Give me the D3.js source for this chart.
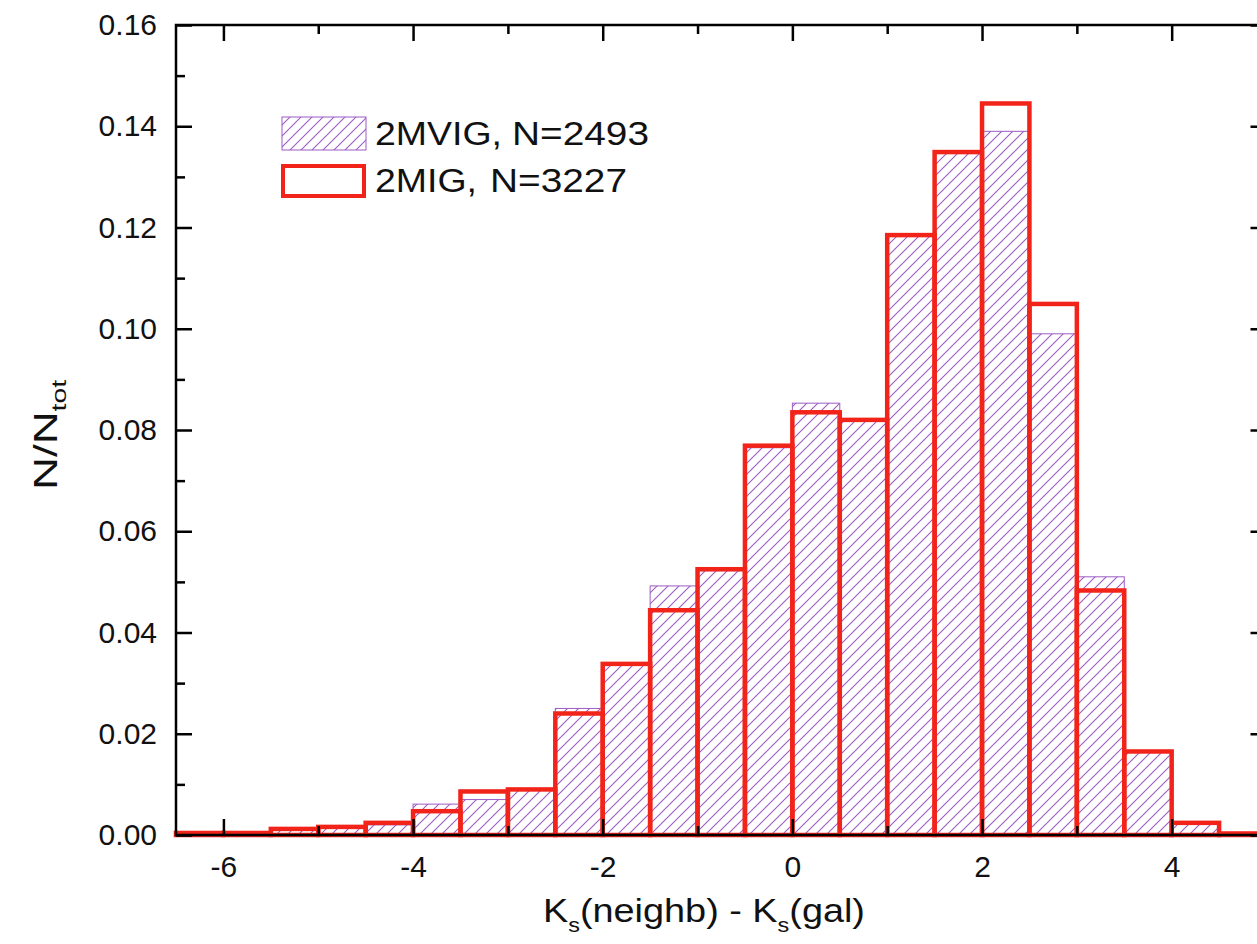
<!DOCTYPE html>
<html><head><meta charset="utf-8">
<script src="https://cdn.jsdelivr.net/npm/d3@7"></script>
<style>body{margin:0;background:#fff}svg{display:block}</style></head>
<body>
<svg id="c" width="1257" height="944"></svg>
<script>
// ---- data ----
const binStarts = [-6.5,-6,-5.5,-5,-4.5,-4,-3.5,-3,-2.5,-2,-1.5,-1,-0.5,0,0.5,1,1.5,2,2.5,3,3.5,4,4.5];
const binWidth = 0.5;
const mig2  = [0.0004,0.0004,0.0012,0.0016,0.0024,0.0047,0.0086,0.0090,0.0240,0.0338,0.0444,0.0525,0.0769,0.0835,0.0820,0.1185,0.1349,0.1445,0.1049,0.0483,0.0165,0.0024,0.0003];
const mvig2 = [0.0003,0.0003,0.0010,0.0015,0.0020,0.0061,0.0070,0.0088,0.0250,0.0335,0.0492,0.0522,0.0765,0.0853,0.0822,0.1183,0.1347,0.1390,0.0990,0.0510,0.0163,0.0021,0.0002];
const xMajor = [-6,-4,-2,0,2,4];
const xMinor = [-5,-3,-1,1,3];
const yMajor = [0,0.02,0.04,0.06,0.08,0.10,0.12,0.14,0.16];
const yMinor = [0.01,0.03,0.05,0.07,0.09,0.11,0.13,0.15];
const legendNames = ["2MVIG,","2MIG,"];
const legendCounts = ["N=2493","N=3227"];

// ---- layout ----
const L=176, R=1266.5, T=25, B=835;
const RED="#f2241a", PURPLE="#9c5cc4";
const FONT="'Liberation Sans', Arial, sans-serif";
const svg=d3.select("#c");
svg.append("rect").attr("width",1257).attr("height",944).attr("fill","#fff");

const x=d3.scaleLinear().domain([-6.5,5]).range([L,R]);
const y=d3.scaleLinear().domain([0,0.16]).range([B,T]);

const defs=svg.append("defs");
const hatchStep=11;
const pat=defs.append("pattern").attr("id","hatchP").attr("patternUnits","userSpaceOnUse")
  .attr("width",hatchStep).attr("height",hatchStep);
pat.append("rect").attr("width",hatchStep).attr("height",hatchStep).style("fill","#ffffff");
pat.append("path")
  .attr("d",`M-1,1 L1,-1 M0,${hatchStep} L${hatchStep},0 M${hatchStep-1},${hatchStep+1} L${hatchStep+1},${hatchStep-1}`)
  .style("stroke",PURPLE).style("stroke-width","1.1px").style("fill","none");

const bins=binStarts.map((s,i)=>({x0:s,x1:s+binWidth,a:mvig2[i],b:mig2[i]}));

// hatched 2MVIG bars
svg.append("g").selectAll("rect").data(bins).join("rect")
  .attr("x",d=>x(d.x0)).attr("width",d=>x(d.x1)-x(d.x0))
  .attr("y",d=>y(d.a)).attr("height",d=>y(0)-y(d.a))
  .attr("fill","url(#hatchP)").attr("stroke",PURPLE).attr("stroke-width",1);

// red outline 2MIG bars
svg.append("g").selectAll("rect").data(bins).join("rect")
  .attr("x",d=>x(d.x0)).attr("width",d=>x(d.x1)-x(d.x0))
  .attr("y",d=>y(d.b)).attr("height",d=>y(0)-y(d.b))
  .attr("fill","none").attr("stroke",RED).attr("stroke-width",4.5);

// axes
function style(g){
  g.select(".domain").remove();
  g.selectAll(".tick line").attr("stroke","#000").attr("stroke-width",2.5);
  g.selectAll(".tick text").attr("font-family",FONT).attr("font-size",30).attr("fill","#111");
}
svg.append("g").attr("transform",`translate(0,${B})`)
  .call(d3.axisBottom(x).tickValues(xMajor).tickSize(-16).tickPadding(21).tickFormat(d=>String(d))).call(style);
svg.append("g").attr("transform",`translate(0,${B})`)
  .call(d3.axisBottom(x).tickValues(xMinor).tickSize(-9).tickFormat("")).call(style);
svg.append("g").attr("transform",`translate(0,${T})`)
  .call(d3.axisTop(x).tickValues(xMajor).tickSize(-16).tickFormat("")).call(style);
svg.append("g").attr("transform",`translate(0,${T})`)
  .call(d3.axisTop(x).tickValues(xMinor).tickSize(-9).tickFormat("")).call(style);
svg.append("g").attr("transform",`translate(${L},0)`)
  .call(d3.axisLeft(y).tickValues(yMajor).tickSize(-16).tickPadding(19).tickFormat(d3.format(".2f"))).call(style);
svg.append("g").attr("transform",`translate(${L},0)`)
  .call(d3.axisLeft(y).tickValues(yMinor).tickSize(-9).tickFormat("")).call(style);
svg.append("g").attr("transform",`translate(${R},0)`)
  .call(d3.axisRight(y).tickValues(yMajor).tickSize(-16).tickFormat("")).call(style);
svg.append("g").attr("transform",`translate(${R},0)`)
  .call(d3.axisRight(y).tickValues(yMinor).tickSize(-9).tickFormat("")).call(style);

// frame
svg.append("rect").attr("x",L).attr("y",T).attr("width",R-L).attr("height",B-T)
  .attr("fill","none").attr("stroke","#000").attr("stroke-width",2.5);

// axis titles
const xt=svg.append("text").attr("font-family",FONT).attr("font-size",34).attr("fill","#111")
  .attr("x",543).attr("y",922).attr("textLength",322).attr("lengthAdjust","spacingAndGlyphs");
xt.append("tspan").text("K");
xt.append("tspan").attr("font-size",21).attr("dy",10).text("s");
xt.append("tspan").attr("dy",-10).text("(neighb) - K");
xt.append("tspan").attr("font-size",21).attr("dy",10).text("s");
xt.append("tspan").attr("dy",-10).text("(gal)");

const yt=svg.append("text").attr("font-family",FONT).attr("font-size",34).attr("fill","#111")
  .attr("transform","translate(57,490) rotate(-90)")
  .attr("textLength",110).attr("lengthAdjust","spacingAndGlyphs");
yt.append("tspan").text("N/N");
yt.append("tspan").attr("font-size",21).attr("dy",9).text("tot");

// legend
const lg=svg.append("g");
lg.append("rect").attr("x",282).attr("y",117).attr("width",84).attr("height",33)
  .attr("fill","url(#hatchP)").attr("stroke",PURPLE).attr("stroke-width",1);
lg.append("rect").attr("x",283).attr("y",166).attr("width",81).attr("height",30)
  .attr("fill","none").attr("stroke",RED).attr("stroke-width",4);
const rowsY=[145,192];
const nameW=[127,102], countX=[512,490];
legendNames.forEach((n,i)=>{
  lg.append("text").attr("x",375).attr("y",rowsY[i]).attr("font-family",FONT).attr("font-size",34)
    .attr("fill","#111").attr("textLength",nameW[i]).attr("lengthAdjust","spacingAndGlyphs").text(n);
  lg.append("text").attr("x",countX[i]).attr("y",rowsY[i]).attr("font-family",FONT).attr("font-size",34)
    .attr("fill","#111").attr("textLength",137).attr("lengthAdjust","spacingAndGlyphs").text(legendCounts[i]);
});
</script>
</body></html>
